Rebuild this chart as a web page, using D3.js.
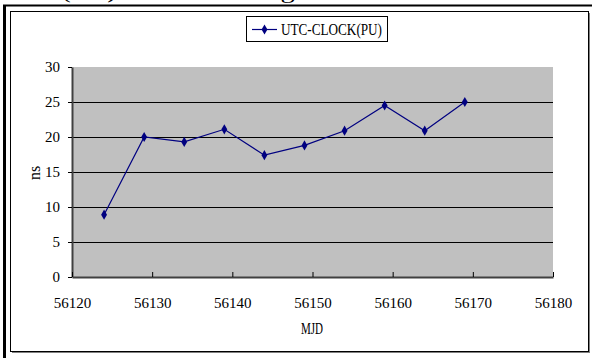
<!DOCTYPE html>
<html>
<head>
<meta charset="utf-8">
<script src="https://cdn.jsdelivr.net/npm/d3@7"></script>
<style>
  html, body { margin: 0; padding: 0; background: #fff; }
  svg { display: block; }
</style>
</head>
<body>
<div id="chart"></div>
<script>
// MJD dates and clock offsets (ns)
const mjd = [56124, 56129, 56134, 56139, 56144, 56149, 56154, 56159, 56164, 56169];
const offsetNs = [8.9, 20.0, 19.3, 21.1, 17.4, 18.8, 20.9, 24.5, 20.9, 25.0];
const xTicks = [56120, 56130, 56140, 56150, 56160, 56170, 56180];
const yTicks = [0, 5, 10, 15, 20, 25, 30];
const seriesName = "UTC-CLOCK(PU)";
const xTitle = "MJD";
const yTitle = "ns";
const captionLine = "UTC(PU) is shown as figure 3.";

const W = 592, H = 358;
const plot = { left: 72, right: 553, top: 67, bottom: 277 };
const serif = "'Liberation Serif', 'DejaVu Serif', serif";
const navy = "#000080";

const svg = d3.select("#chart").append("svg")
  .attr("width", W).attr("height", H);

// caption line of the surrounding document, running off the top edge
svg.append("text")
  .attr("x", 4).attr("y", -2)
  .attr("font-family", serif).attr("font-size", 22)
  .attr("fill", "#000")
  .attr("textLength", 356).attr("lengthAdjust", "spacingAndGlyphs")
  .text(captionLine);

// outer figure rules
svg.append("line").attr("x1", 3).attr("x2", W).attr("y1", 5.5).attr("y2", 5.5)
  .attr("stroke", "#000").attr("stroke-width", 2);
svg.append("line").attr("x1", 4.5).attr("x2", 4.5).attr("y1", 5).attr("y2", H)
  .attr("stroke", "#000").attr("stroke-width", 3);

// chart frame with a soft shadow
svg.append("rect").attr("x", 12).attr("y", 13).attr("width", 578).attr("height", 340)
  .attr("fill", "#808080");
svg.append("rect").attr("x", 10.5).attr("y", 11.5).attr("width", 578).attr("height", 340)
  .attr("fill", "#fff").attr("stroke", "#000").attr("stroke-width", 1);

const x = d3.scaleLinear().domain([56120, 56180]).range([plot.left, plot.right]);
const y = d3.scaleLinear().domain([0, 30]).range([plot.bottom, plot.top]);

// plot area
svg.append("rect")
  .attr("x", plot.left).attr("y", plot.top)
  .attr("width", plot.right - plot.left).attr("height", plot.bottom - plot.top)
  .attr("fill", "#c0c0c0");

// horizontal gridlines
svg.append("g").selectAll("line")
  .data(yTicks.filter(v => v > 0 && v < 30))
  .join("line")
  .attr("x1", plot.left).attr("x2", plot.right)
  .attr("y1", d => Math.round(y(d)) + 0.5).attr("y2", d => Math.round(y(d)) + 0.5)
  .attr("stroke", "#000").attr("stroke-width", 1);

// y axis
const yAxis = svg.append("g")
  .attr("transform", `translate(${plot.left},0)`)
  .call(d3.axisLeft(y).tickValues(yTicks).tickSize(4).tickSizeOuter(0).tickPadding(8));
yAxis.select(".domain").attr("stroke", "#404040").attr("stroke-width", 2);
yAxis.selectAll(".tick line").attr("stroke", "#000");
yAxis.selectAll(".tick text")
  .attr("font-family", serif).attr("font-size", 15).attr("fill", "#000");

// x axis with ticks pointing into the plot
const xAxis = svg.append("g")
  .attr("transform", `translate(0,${plot.bottom})`)
  .call(d3.axisBottom(x).tickValues(xTicks).tickFormat(d3.format("d"))
    .tickSize(-5).tickSizeOuter(0).tickPadding(20));
xAxis.select(".domain").attr("stroke", "#404040").attr("stroke-width", 2);
xAxis.selectAll(".tick line").attr("stroke", "#000");
xAxis.selectAll(".tick text")
  .attr("font-family", serif).attr("font-size", 15).attr("fill", "#000");

// axis titles
svg.append("text")
  .attr("x", 312).attr("y", 334)
  .attr("text-anchor", "middle")
  .attr("font-family", serif).attr("font-size", 16)
  .attr("textLength", 22).attr("lengthAdjust", "spacingAndGlyphs")
  .text(xTitle);
svg.append("text")
  .attr("transform", "translate(40,173) rotate(-90)")
  .attr("text-anchor", "middle")
  .attr("font-family", serif).attr("font-size", 16)
  .text(yTitle);

// data series
const pts = mjd.map((d, i) => [d, offsetNs[i]]);
svg.append("path")
  .datum(pts)
  .attr("fill", "none").attr("stroke", navy).attr("stroke-width", 1.2)
  .attr("d", d3.line().x(d => x(d[0])).y(d => y(d[1])));

const diamond = d3.symbol().type(d3.symbolDiamond).size(30);
svg.append("g").selectAll("path")
  .data(pts)
  .join("path")
  .attr("transform", d => `translate(${x(d[0])},${y(d[1])})`)
  .attr("d", diamond)
  .attr("fill", navy);

// legend
const lg = svg.append("g");
lg.append("rect").attr("x", 246.5).attr("y", 16.5).attr("width", 141).attr("height", 25)
  .attr("fill", "#fff").attr("stroke", "#000").attr("stroke-width", 1);
lg.append("line").attr("x1", 252).attr("x2", 277).attr("y1", 29.5).attr("y2", 29.5)
  .attr("stroke", navy).attr("stroke-width", 1.2);
lg.append("path").attr("transform", "translate(264.5,29.5)").attr("d", diamond).attr("fill", navy);
lg.append("text")
  .attr("x", 281).attr("y", 35)
  .attr("font-family", serif).attr("font-size", 16)
  .attr("textLength", 101).attr("lengthAdjust", "spacingAndGlyphs")
  .text(seriesName);
</script>
</body>
</html>
